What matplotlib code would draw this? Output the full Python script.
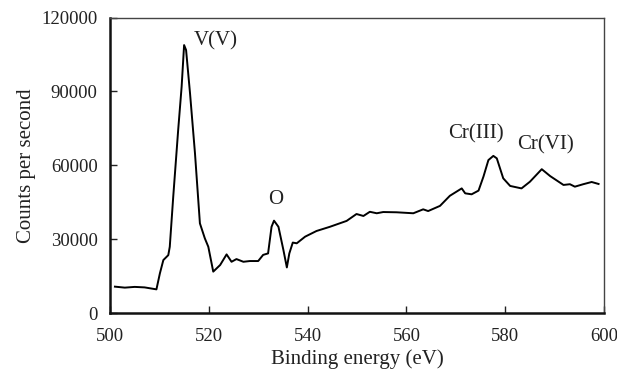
import numpy as np
import matplotlib
matplotlib.use("Agg")
from matplotlib import pyplot as plt

# XPS spectrum
energy = [501.0, 503.0, 505.0, 507.0, 509.4, 510.1, 510.8, 511.8, 512.1, 512.8,
          513.8, 514.5, 515.0, 515.4, 516.2, 517.2, 518.2, 519.2, 519.9, 520.9,
          522.3, 523.6, 524.6, 525.6, 527.0, 528.3, 530.0, 531.0, 532.0, 532.7,
          533.2, 534.1, 535.1, 535.8, 536.3, 537.0, 537.8, 539.5, 541.8, 544.5,
          547.9, 549.9, 551.3, 552.6, 554.0, 555.3, 558.0, 561.4, 563.4, 564.4,
          566.8, 568.8, 571.2, 571.9, 573.2, 574.6, 575.6, 576.6, 577.6, 578.3,
          579.6, 581.0, 583.3, 585.0, 587.4, 589.1, 591.8, 593.1, 594.1, 595.8,
          597.5, 598.9]
counts = [10700, 10300, 10600, 10400, 9600, 16100, 21500, 23500, 26900, 47200,
          74300, 91900, 108800, 106800, 89200, 64900, 36400, 30300, 26900, 16800,
          19500, 23800, 20800, 21900, 20800, 21100, 21100, 23600, 24200, 35000,
          37500, 35000, 25600, 18500, 24200, 28600, 28300, 31000, 33300, 35000,
          37400, 40200, 39400, 41100, 40500, 41000, 40900, 40500, 42100, 41400,
          43500, 47600, 50600, 48600, 48200, 49700, 55400, 62100, 63800, 62800,
          54700, 51600, 50600, 53300, 58400, 55600, 52000, 52300, 51300, 52300,
          53200, 52400]

peak_labels = ["V(V)", "O", "Cr(III)", "Cr(VI)"]
peak_x = [521.4, 533.5, 574.1, 588.1]
peak_y = [110500, 46100, 72900, 68200]

plt.rcParams['font.family'] = ['Liberation Serif', 'DejaVu Serif']
tick_fs = 13.5
label_fs = 15

fig = plt.figure(figsize=(6.17, 3.71), dpi=100)
ax = fig.add_axes([110 / 617, 1 - 313 / 371, 494 / 617, 295.5 / 371])

ax.plot(energy, counts, color='black', lw=1.4)

for lab, x, y in zip(peak_labels, peak_x, peak_y):
    ax.text(x, y, lab, ha='center', va='center', fontsize=label_fs, color='#222222')

ax.set_xlim(500, 600)
ax.set_ylim(0, 120000)
ax.set_xticks(np.arange(500, 601, 20))
ax.set_yticks(np.arange(0, 120001, 30000))
ax.tick_params(direction='in', length=5, width=1, labelsize=tick_fs,
               colors='#222222', top=False, right=False)
ax.tick_params(axis='x', pad=11)
ax.tick_params(axis='y', pad=9)

for side in ['left', 'bottom']:
    ax.spines[side].set_linewidth(1.8)
    ax.spines[side].set_color('#111111')
for side in ['top', 'right']:
    ax.spines[side].set_linewidth(1.0)
    ax.spines[side].set_color('#444444')

ax.set_xlabel('Binding energy (eV)', fontsize=label_fs, color='#222222', labelpad=3)
ax.set_ylabel('Counts per second', fontsize=label_fs, color='#222222', labelpad=4)

fig.savefig('out.png', dpi=100)
